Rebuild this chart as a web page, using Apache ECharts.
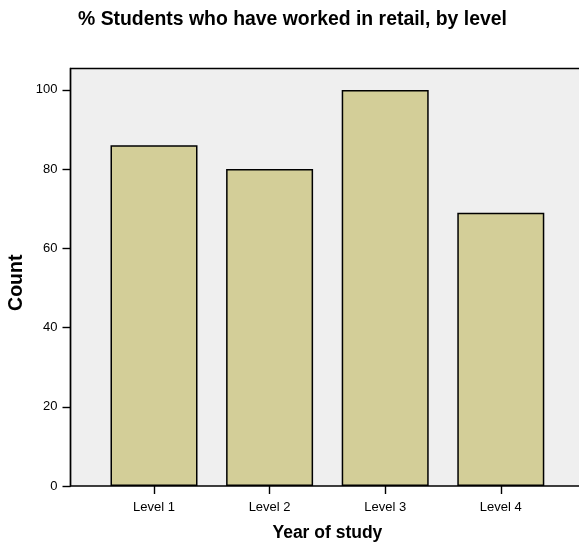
<!DOCTYPE html>
<html><head><meta charset="utf-8">
<script src="https://cdn.jsdelivr.net/npm/echarts@6/dist/echarts.min.js"></script>
<style>html,body{margin:0;padding:0;background:#fff}#c{width:579px;height:546px}</style>
</head><body><div id="c"></div>
<script>
const categories = ["Level 1", "Level 2", "Level 3", "Level 4"];
const counts = [86, 80, 100, 69];
const yTicks = [0, 20, 40, 60, 80, 100];

const chart = echarts.init(document.getElementById('c'), null, {renderer: 'canvas'});
const font = '"Liberation Sans", Arial, sans-serif';
chart.setOption({
  animation: false,
  backgroundColor: '#ffffff',
  title: {
    text: '% Students who have worked in retail, by level',
    left: 73, top: 5,
    textStyle: {fontFamily: font, fontSize: 19.4, fontWeight: 'bold', color: '#000'}
  },
  grid: [
    {left: 70.5, right: -6, top: 68.5, bottom: 60, show: true, backgroundColor: '#efefef',
     borderColor: '#000', borderWidth: 1.4, outerBoundsMode: 'none', containLabel: false},
    {left: 96.2, right: 20.4, top: 68.5, bottom: 60, outerBoundsMode: 'none', containLabel: false}
  ],
  xAxis: [
    {gridIndex: 0, type: 'value', min: 0, max: 1, show: false},
    {gridIndex: 1, type: 'category', data: categories,
     axisLine: {show: false},
     axisTick: {show: true, alignWithLabel: true, length: 8, lineStyle: {color: '#000', width: 1.4}},
     axisLabel: {fontFamily: font, fontSize: 13, color: '#000', margin: 15},
     name: 'Year of study', nameLocation: 'middle', nameGap: 38,
     nameTextStyle: {fontFamily: font, fontSize: 17.5, fontWeight: 'bold', color: '#000'}}
  ],
  yAxis: [
    {gridIndex: 0, type: 'value', min: 0, max: 105.4, interval: 20,
     axisLine: {show: true, lineStyle: {color: '#000', width: 1.4}},
     axisTick: {show: true, length: 8, customValues: yTicks, lineStyle: {color: '#000', width: 1.4}},
     axisLabel: {fontFamily: font, fontSize: 13, color: '#000', margin: 13, customValues: yTicks},
     splitLine: {show: false},
     name: 'Count', nameLocation: 'middle', nameGap: 44, nameRotate: 90, nameMoveOverlap: false,
     nameTextStyle: {fontFamily: font, fontSize: 19.5, fontWeight: 'bold', color: '#000', padding: [0, 11, 0, 0]}},
    {gridIndex: 1, type: 'value', min: 0, max: 105.4, show: false}
  ],
  series: [{
    type: 'bar', xAxisIndex: 1, yAxisIndex: 1,
    data: counts, barWidth: 87,
    itemStyle: {color: '#d3ce98', borderColor: '#000', borderWidth: 1.5}
  }]
});
</script></body></html>
